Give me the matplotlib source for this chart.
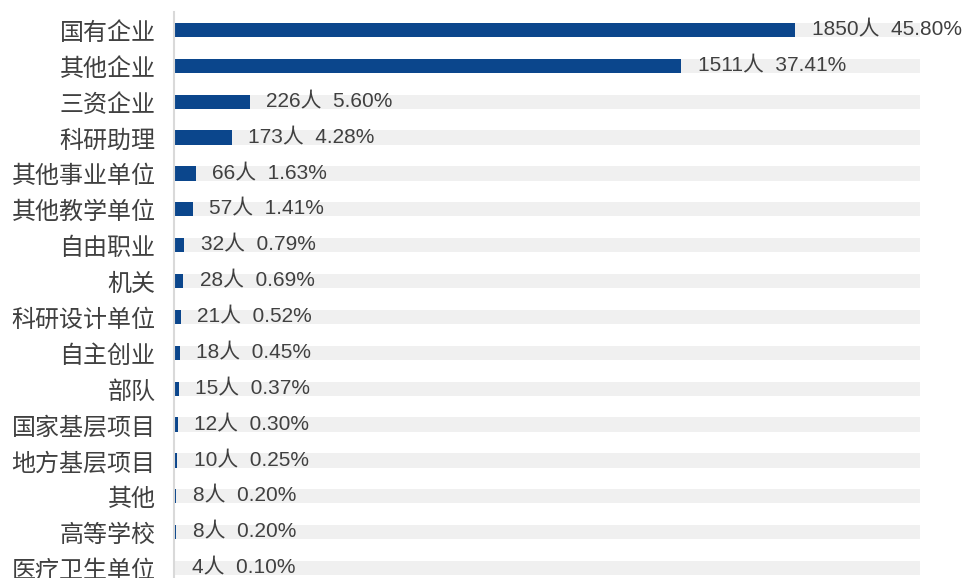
import matplotlib.pyplot as plt
import numpy as np

plt.rcParams['font.family'] = ['Noto Sans CJK SC', 'DejaVu Sans']

categories = ['国有企业', '其他企业', '三资企业', '科研助理', '其他事业单位', '其他教学单位',
              '自由职业', '机关', '科研设计单位', '自主创业', '部队', '国家基层项目',
              '地方基层项目', '其他', '高等学校', '医疗卫生单位']
counts = [1850, 1511, 226, 173, 66, 57, 32, 28, 21, 18, 15, 12, 10, 8, 8, 4]
percents = ['45.80%', '37.41%', '5.60%', '4.28%', '1.63%', '1.41%', '0.79%', '0.69%',
            '0.52%', '0.45%', '0.37%', '0.30%', '0.25%', '0.20%', '0.20%', '0.10%']
background = 2220

fig = plt.figure(figsize=(9.7, 5.78), dpi=100)
ax = fig.add_axes([0.179, -0.0138, 0.769, 0.993])

y = np.arange(len(categories))
ax.barh(y, [background] * len(y), height=0.4, color='#F0F0F0', zorder=1)
ax.barh(y, counts, height=0.4, color='#0B468C', zorder=2)

for yi, c, p in zip(y, counts, percents):
    ax.annotate(f'{c}人  {p}', (c, yi), xytext=(12, 0), textcoords='offset points',
                va='center', ha='left', fontsize=15, color='#404040', zorder=3,
                family=['Liberation Sans', 'Noto Sans CJK SC'])

ax.set_yticks(y)
ax.set_yticklabels(categories, fontsize=17.3, color='#404040')
ax.set_ylim(len(y) - 0.5, -0.5)
ax.set_xlim(0, background)
ax.set_xticks([])
ax.tick_params(axis='y', length=0, pad=13)
for s in ['top', 'right', 'bottom']:
    ax.spines[s].set_visible(False)
ax.spines['left'].set_color('#D9D9D9')
ax.spines['left'].set_linewidth(1.5)

fig.savefig('out.png', dpi=100)
